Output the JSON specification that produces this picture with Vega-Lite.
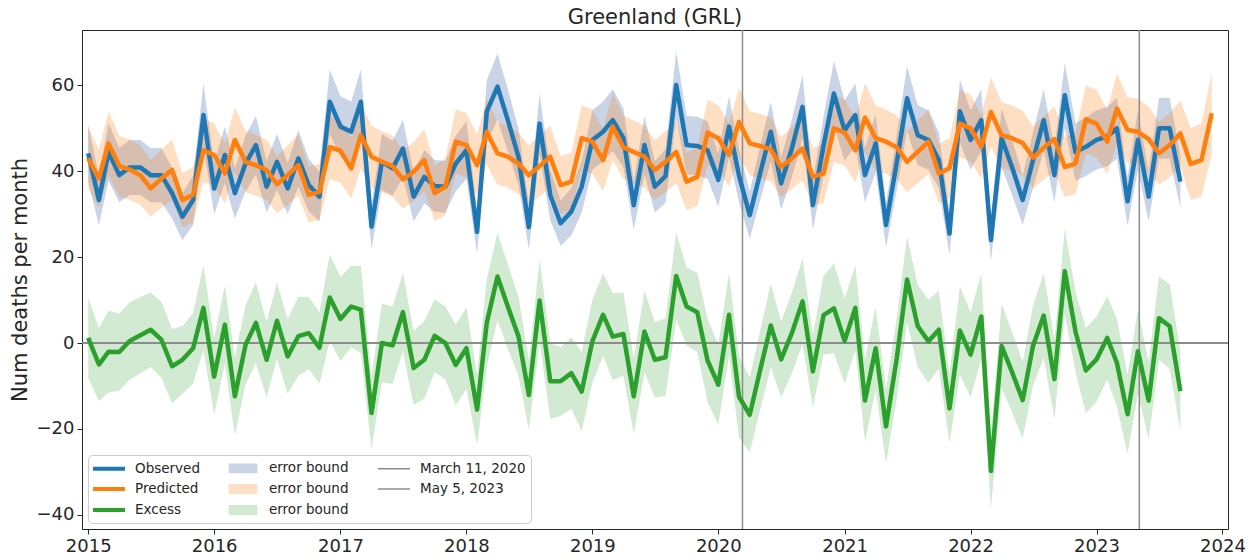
{
  "$schema": "https://vega.github.io/schema/vega-lite/v6.json",
  "width": 1146,
  "height": 499,
  "autosize": {"type": "none"},
  "padding": {"left": 82, "top": 30, "right": 31, "bottom": 31},
  "background": "white",
  "title": {"text": "Greenland (GRL)", "fontSize": 21, "font": "DejaVu Sans", "fontWeight": "normal", "color": "#262626", "offset": 1, "anchor": "middle"},
  "config": {
    "view": {"stroke": "#262626", "strokeWidth": 1},
    "font": "DejaVu Sans",
    "axis": {"domain": false, "grid": false, "tickColor": "#262626", "tickSize": 5, "tickWidth": 1, "labelFontSize": 18, "labelColor": "#262626", "labelFont": "DejaVu Sans", "titleFont": "DejaVu Sans", "titleFontWeight": "normal", "titleColor": "#262626", "labelPadding": 3}
  },
  "datasets": {
    "m": [
      {"date":"2015-01-01","o":44.2,"ol":37.6,"oh":50.8,"p":43.0,"pl":35.8,"ph":50.2,"e":1.2,"el":-8.1,"eh":10.5},
      {"date":"2015-02-01","o":33.3,"ol":27.5,"oh":39.1,"p":38.3,"pl":31.5,"ph":45.1,"e":-5.0,"el":-13.5,"eh":3.5},
      {"date":"2015-03-01","o":44.5,"ol":37.8,"oh":51.2,"p":46.5,"pl":39.0,"ph":54.0,"e":-2.0,"el":-11.5,"eh":7.5},
      {"date":"2015-04-01","o":39.1,"ol":32.8,"oh":45.4,"p":41.2,"pl":34.1,"ph":48.3,"e":-2.1,"el":-11.1,"eh":6.9},
      {"date":"2015-05-01","o":40.9,"ol":34.5,"oh":47.3,"p":40.4,"pl":33.4,"ph":47.4,"e":0.5,"el":-8.5,"eh":9.5},
      {"date":"2015-06-01","o":40.9,"ol":34.5,"oh":47.3,"p":39.1,"pl":32.2,"ph":46.0,"e":1.8,"el":-7.1,"eh":10.7},
      {"date":"2015-07-01","o":39.1,"ol":32.8,"oh":45.4,"p":36.0,"pl":29.4,"ph":42.6,"e":3.1,"el":-5.6,"eh":11.8},
      {"date":"2015-08-01","o":39.1,"ol":32.8,"oh":45.4,"p":38.3,"pl":31.5,"ph":45.1,"e":0.8,"el":-8.0,"eh":9.6},
      {"date":"2015-09-01","o":34.9,"ol":29.0,"oh":40.8,"p":40.3,"pl":33.3,"ph":47.3,"e":-5.4,"el":-14.1,"eh":3.3},
      {"date":"2015-10-01","o":29.4,"ol":24.0,"oh":34.8,"p":33.3,"pl":27.0,"ph":39.6,"e":-3.9,"el":-11.8,"eh":4.0},
      {"date":"2015-11-01","o":33.3,"ol":27.5,"oh":39.1,"p":34.5,"pl":28.0,"ph":41.0,"e":-1.2,"el":-9.4,"eh":7.0},
      {"date":"2015-12-01","o":53.1,"ol":45.8,"oh":60.4,"p":44.9,"pl":37.5,"ph":52.3,"e":8.2,"el":-1.7,"eh":18.1},
      {"date":"2016-01-01","o":36.0,"ol":30.0,"oh":42.0,"p":43.8,"pl":36.5,"ph":51.1,"e":-7.8,"el":-16.7,"eh":1.1},
      {"date":"2016-02-01","o":43.8,"ol":37.2,"oh":50.4,"p":39.5,"pl":32.6,"ph":46.4,"e":4.3,"el":-4.8,"eh":13.4},
      {"date":"2016-03-01","o":34.9,"ol":29.0,"oh":40.8,"p":47.3,"pl":39.7,"ph":54.9,"e":-12.4,"el":-21.5,"eh":-3.3},
      {"date":"2016-04-01","o":41.8,"ol":35.3,"oh":48.3,"p":42.2,"pl":35.1,"ph":49.3,"e":-0.4,"el":-9.6,"eh":8.8},
      {"date":"2016-05-01","o":46.1,"ol":39.3,"oh":52.9,"p":41.4,"pl":34.3,"ph":48.5,"e":4.7,"el":-4.7,"eh":14.1},
      {"date":"2016-06-01","o":36.4,"ol":30.4,"oh":42.4,"p":40.3,"pl":33.3,"ph":47.3,"e":-3.9,"el":-12.7,"eh":4.9},
      {"date":"2016-07-01","o":42.2,"ol":35.7,"oh":48.7,"p":37.0,"pl":30.3,"ph":43.7,"e":5.2,"el":-3.7,"eh":14.1},
      {"date":"2016-08-01","o":36.0,"ol":30.0,"oh":42.0,"p":39.1,"pl":32.2,"ph":46.0,"e":-3.1,"el":-11.8,"eh":5.6},
      {"date":"2016-09-01","o":43.0,"ol":36.4,"oh":49.6,"p":41.4,"pl":34.3,"ph":48.5,"e":1.6,"el":-7.6,"eh":10.8},
      {"date":"2016-10-01","o":36.8,"ol":30.7,"oh":42.9,"p":34.5,"pl":28.0,"ph":41.0,"e":2.3,"el":-6.1,"eh":10.7},
      {"date":"2016-11-01","o":34.1,"ol":28.3,"oh":39.9,"p":35.2,"pl":28.7,"ph":41.7,"e":-1.1,"el":-9.4,"eh":7.2},
      {"date":"2016-12-01","o":56.2,"ol":48.7,"oh":63.7,"p":45.6,"pl":38.2,"ph":53.0,"e":10.6,"el":0.5,"eh":20.7},
      {"date":"2017-01-01","o":50.4,"ol":43.3,"oh":57.5,"p":44.8,"pl":37.4,"ph":52.2,"e":5.6,"el":-4.2,"eh":15.4},
      {"date":"2017-02-01","o":49.2,"ol":42.2,"oh":56.2,"p":40.7,"pl":33.7,"ph":47.7,"e":8.5,"el":-1.0,"eh":18.0},
      {"date":"2017-03-01","o":56.2,"ol":48.7,"oh":63.7,"p":48.4,"pl":40.7,"ph":56.1,"e":7.8,"el":-2.4,"eh":18.0},
      {"date":"2017-04-01","o":27.1,"ol":21.9,"oh":32.3,"p":43.4,"pl":36.2,"ph":50.6,"e":-16.3,"el":-24.7,"eh":-7.9},
      {"date":"2017-05-01","o":42.2,"ol":35.7,"oh":48.7,"p":42.2,"pl":35.1,"ph":49.3,"e":0.0,"el":-9.2,"eh":9.2},
      {"date":"2017-06-01","o":40.7,"ol":34.3,"oh":47.1,"p":41.2,"pl":34.1,"ph":48.3,"e":-0.5,"el":-9.5,"eh":8.5},
      {"date":"2017-07-01","o":45.3,"ol":38.6,"oh":52.0,"p":38.1,"pl":31.3,"ph":44.9,"e":7.2,"el":-1.9,"eh":16.3},
      {"date":"2017-08-01","o":34.1,"ol":28.3,"oh":39.9,"p":39.9,"pl":33.0,"ph":46.8,"e":-5.8,"el":-14.4,"eh":2.8},
      {"date":"2017-09-01","o":38.7,"ol":32.5,"oh":44.9,"p":42.6,"pl":35.4,"ph":49.8,"e":-3.9,"el":-12.9,"eh":5.1},
      {"date":"2017-10-01","o":36.6,"ol":30.6,"oh":42.6,"p":34.9,"pl":28.4,"ph":41.4,"e":1.7,"el":-6.8,"eh":10.2},
      {"date":"2017-11-01","o":36.4,"ol":30.4,"oh":42.4,"p":36.4,"pl":29.8,"ph":43.0,"e":0.0,"el":-8.5,"eh":8.5},
      {"date":"2017-12-01","o":41.8,"ol":35.3,"oh":48.3,"p":46.9,"pl":39.4,"ph":54.4,"e":-5.1,"el":-14.5,"eh":4.3},
      {"date":"2018-01-01","o":44.9,"ol":38.2,"oh":51.6,"p":46.1,"pl":38.6,"ph":53.6,"e":-1.2,"el":-10.7,"eh":8.3},
      {"date":"2018-02-01","o":25.9,"ol":20.8,"oh":31.0,"p":41.4,"pl":34.3,"ph":48.5,"e":-15.5,"el":-23.7,"eh":-7.3},
      {"date":"2018-03-01","o":53.9,"ol":46.6,"oh":61.2,"p":49.2,"pl":41.5,"ph":56.9,"e":4.7,"el":-5.5,"eh":14.9},
      {"date":"2018-04-01","o":59.7,"ol":52.0,"oh":67.4,"p":44.2,"pl":36.9,"ph":51.5,"e":15.5,"el":5.3,"eh":25.7},
      {"date":"2018-05-01","o":51.9,"ol":44.7,"oh":59.1,"p":43.4,"pl":36.2,"ph":50.6,"e":8.5,"el":-1.3,"eh":18.3},
      {"date":"2018-06-01","o":43.3,"ol":36.7,"oh":49.9,"p":41.8,"pl":34.7,"ph":48.9,"e":1.5,"el":-7.7,"eh":10.7},
      {"date":"2018-07-01","o":27.0,"ol":21.8,"oh":32.2,"p":39.1,"pl":32.2,"ph":46.0,"e":-12.1,"el":-20.2,"eh":-4.0},
      {"date":"2018-08-01","o":51.1,"ol":44.0,"oh":58.2,"p":41.2,"pl":34.1,"ph":48.3,"e":9.9,"el":0.3,"eh":19.5},
      {"date":"2018-09-01","o":34.5,"ol":28.6,"oh":40.4,"p":43.4,"pl":36.2,"ph":50.6,"e":-8.9,"el":-17.7,"eh":-0.1},
      {"date":"2018-10-01","o":27.9,"ol":22.6,"oh":33.2,"p":36.8,"pl":30.1,"ph":43.5,"e":-8.9,"el":-16.9,"eh":-0.9},
      {"date":"2018-11-01","o":30.6,"ol":25.1,"oh":36.1,"p":37.6,"pl":30.9,"ph":44.3,"e":-7.0,"el":-15.3,"eh":1.3},
      {"date":"2018-12-01","o":36.4,"ol":30.4,"oh":42.4,"p":47.7,"pl":40.1,"ph":55.3,"e":-11.3,"el":-20.5,"eh":-2.1},
      {"date":"2019-01-01","o":47.3,"ol":40.4,"oh":54.2,"p":46.9,"pl":39.4,"ph":54.4,"e":0.4,"el":-9.3,"eh":10.1},
      {"date":"2019-02-01","o":49.2,"ol":42.2,"oh":56.2,"p":42.6,"pl":35.4,"ph":49.8,"e":6.6,"el":-3.0,"eh":16.2},
      {"date":"2019-03-01","o":51.9,"ol":44.7,"oh":59.1,"p":50.4,"pl":42.6,"ph":58.2,"e":1.5,"el":-8.6,"eh":11.6},
      {"date":"2019-04-01","o":47.7,"ol":40.8,"oh":54.6,"p":45.6,"pl":38.2,"ph":53.0,"e":2.1,"el":-7.6,"eh":11.8},
      {"date":"2019-05-01","o":32.1,"ol":26.4,"oh":37.8,"p":44.5,"pl":37.2,"ph":51.8,"e":-12.4,"el":-21.2,"eh":-3.6},
      {"date":"2019-06-01","o":46.1,"ol":39.3,"oh":52.9,"p":43.4,"pl":36.2,"ph":50.6,"e":2.7,"el":-6.8,"eh":12.2},
      {"date":"2019-07-01","o":36.4,"ol":30.4,"oh":42.4,"p":40.3,"pl":33.3,"ph":47.3,"e":-3.9,"el":-12.7,"eh":4.9},
      {"date":"2019-08-01","o":38.9,"ol":32.7,"oh":45.1,"p":42.2,"pl":35.1,"ph":49.3,"e":-3.3,"el":-12.3,"eh":5.7},
      {"date":"2019-09-01","o":60.1,"ol":52.3,"oh":67.9,"p":44.5,"pl":37.2,"ph":51.8,"e":15.6,"el":5.4,"eh":25.8},
      {"date":"2019-10-01","o":46.1,"ol":39.3,"oh":52.9,"p":37.6,"pl":30.9,"ph":44.3,"e":8.5,"el":-0.6,"eh":17.6},
      {"date":"2019-11-01","o":45.9,"ol":39.1,"oh":52.7,"p":38.7,"pl":31.9,"ph":45.5,"e":7.2,"el":-2.0,"eh":16.4},
      {"date":"2019-12-01","o":44.9,"ol":38.2,"oh":51.6,"p":49.0,"pl":41.3,"ph":56.7,"e":-4.1,"el":-13.8,"eh":5.6},
      {"date":"2020-01-01","o":38.0,"ol":31.8,"oh":44.2,"p":47.7,"pl":40.1,"ph":55.3,"e":-9.7,"el":-19.0,"eh":-0.4},
      {"date":"2020-02-01","o":50.4,"ol":43.3,"oh":57.5,"p":43.8,"pl":36.5,"ph":51.1,"e":6.6,"el":-3.1,"eh":16.3},
      {"date":"2020-03-01","o":39.0,"ol":32.8,"oh":45.2,"p":51.5,"pl":43.6,"ph":59.4,"e":-12.5,"el":-22.0,"eh":-3.0},
      {"date":"2020-04-01","o":29.8,"ol":24.3,"oh":35.3,"p":46.5,"pl":39.0,"ph":54.0,"e":-16.7,"el":-25.4,"eh":-8.0},
      {"date":"2020-05-01","o":39.5,"ol":33.2,"oh":45.8,"p":45.9,"pl":38.4,"ph":53.4,"e":-6.4,"el":-15.6,"eh":2.8},
      {"date":"2020-06-01","o":49.2,"ol":42.2,"oh":56.2,"p":45.1,"pl":37.7,"ph":52.5,"e":4.1,"el":-5.6,"eh":13.8},
      {"date":"2020-07-01","o":37.2,"ol":31.1,"oh":43.3,"p":41.0,"pl":34.0,"ph":48.0,"e":-3.8,"el":-12.6,"eh":5.0},
      {"date":"2020-08-01","o":45.3,"ol":38.6,"oh":52.0,"p":43.0,"pl":35.8,"ph":50.2,"e":2.3,"el":-7.1,"eh":11.7},
      {"date":"2020-09-01","o":55.0,"ol":47.6,"oh":62.4,"p":45.3,"pl":37.9,"ph":52.7,"e":9.7,"el":-0.3,"eh":19.7},
      {"date":"2020-10-01","o":32.1,"ol":26.4,"oh":37.8,"p":38.7,"pl":31.9,"ph":45.5,"e":-6.6,"el":-15.0,"eh":1.8},
      {"date":"2020-11-01","o":46.0,"ol":39.2,"oh":52.8,"p":39.5,"pl":32.6,"ph":46.4,"e":6.5,"el":-2.7,"eh":15.7},
      {"date":"2020-12-01","o":58.1,"ol":50.5,"oh":65.7,"p":50.0,"pl":42.2,"ph":57.8,"e":8.1,"el":-2.3,"eh":18.5},
      {"date":"2021-01-01","o":49.5,"ol":42.5,"oh":56.5,"p":49.0,"pl":41.3,"ph":56.7,"e":0.5,"el":-9.4,"eh":10.4},
      {"date":"2021-02-01","o":53.1,"ol":45.8,"oh":60.4,"p":44.9,"pl":37.5,"ph":52.3,"e":8.2,"el":-1.7,"eh":18.1},
      {"date":"2021-03-01","o":39.1,"ol":32.8,"oh":45.4,"p":52.5,"pl":44.5,"ph":60.5,"e":-13.4,"el":-23.0,"eh":-3.8},
      {"date":"2021-04-01","o":46.5,"ol":39.7,"oh":53.3,"p":47.7,"pl":40.1,"ph":55.3,"e":-1.2,"el":-10.9,"eh":8.5},
      {"date":"2021-05-01","o":27.5,"ol":22.3,"oh":32.7,"p":46.9,"pl":39.4,"ph":54.4,"e":-19.4,"el":-28.0,"eh":-10.8},
      {"date":"2021-06-01","o":42.0,"ol":35.5,"oh":48.5,"p":45.6,"pl":38.2,"ph":53.0,"e":-3.6,"el":-13.0,"eh":5.8},
      {"date":"2021-07-01","o":57.0,"ol":49.5,"oh":64.5,"p":42.2,"pl":35.1,"ph":49.3,"e":14.8,"el":4.8,"eh":24.8},
      {"date":"2021-08-01","o":48.4,"ol":41.4,"oh":55.4,"p":44.5,"pl":37.2,"ph":51.8,"e":3.9,"el":-5.7,"eh":13.5},
      {"date":"2021-09-01","o":47.3,"ol":40.4,"oh":54.2,"p":46.9,"pl":39.4,"ph":54.4,"e":0.4,"el":-9.3,"eh":10.1},
      {"date":"2021-10-01","o":42.6,"ol":36.1,"oh":49.1,"p":39.5,"pl":32.6,"ph":46.4,"e":3.1,"el":-6.0,"eh":12.2},
      {"date":"2021-11-01","o":25.5,"ol":20.5,"oh":30.5,"p":40.7,"pl":33.7,"ph":47.7,"e":-15.2,"el":-23.3,"eh":-7.1},
      {"date":"2021-12-01","o":54.0,"ol":46.7,"oh":61.3,"p":51.1,"pl":43.2,"ph":59.0,"e":2.9,"el":-7.4,"eh":13.2},
      {"date":"2022-01-01","o":47.3,"ol":40.4,"oh":54.2,"p":50.0,"pl":42.2,"ph":57.8,"e":-2.7,"el":-12.6,"eh":7.2},
      {"date":"2022-02-01","o":51.9,"ol":44.7,"oh":59.1,"p":45.7,"pl":38.3,"ph":53.1,"e":6.2,"el":-3.7,"eh":16.1},
      {"date":"2022-03-01","o":24.0,"ol":19.1,"oh":28.9,"p":53.8,"pl":45.7,"ph":61.9,"e":-29.8,"el":-38.6,"eh":-21.0},
      {"date":"2022-04-01","o":47.7,"ol":40.8,"oh":54.6,"p":48.4,"pl":40.7,"ph":56.1,"e":-0.7,"el":-10.5,"eh":9.1},
      {"date":"2022-05-01","o":41.0,"ol":34.6,"oh":47.4,"p":47.7,"pl":40.1,"ph":55.3,"e":-6.7,"el":-16.1,"eh":2.7},
      {"date":"2022-06-01","o":33.3,"ol":27.5,"oh":39.1,"p":46.6,"pl":39.1,"ph":54.1,"e":-13.3,"el":-22.2,"eh":-4.4},
      {"date":"2022-07-01","o":42.6,"ol":36.1,"oh":49.1,"p":43.2,"pl":36.0,"ph":50.4,"e":-0.6,"el":-9.9,"eh":8.7},
      {"date":"2022-08-01","o":51.9,"ol":44.7,"oh":59.1,"p":45.5,"pl":38.1,"ph":52.9,"e":6.4,"el":-3.5,"eh":16.3},
      {"date":"2022-09-01","o":39.1,"ol":32.8,"oh":45.4,"p":47.5,"pl":39.9,"ph":55.1,"e":-8.4,"el":-17.7,"eh":0.9},
      {"date":"2022-10-01","o":57.7,"ol":50.1,"oh":65.3,"p":41.0,"pl":34.0,"ph":48.0,"e":16.7,"el":6.8,"eh":26.6},
      {"date":"2022-11-01","o":44.5,"ol":37.8,"oh":51.2,"p":41.8,"pl":34.7,"ph":48.9,"e":2.7,"el":-6.6,"eh":12.0},
      {"date":"2022-12-01","o":45.7,"ol":38.9,"oh":52.5,"p":52.1,"pl":44.2,"ph":60.0,"e":-6.4,"el":-16.3,"eh":3.5},
      {"date":"2023-01-01","o":47.3,"ol":40.4,"oh":54.2,"p":51.1,"pl":43.2,"ph":59.0,"e":-3.8,"el":-13.7,"eh":6.1},
      {"date":"2023-02-01","o":48.1,"ol":41.2,"oh":55.0,"p":46.9,"pl":39.4,"ph":54.4,"e":1.2,"el":-8.5,"eh":10.9},
      {"date":"2023-03-01","o":50.0,"ol":42.9,"oh":57.1,"p":54.6,"pl":46.5,"ph":62.7,"e":-4.6,"el":-14.8,"eh":5.6},
      {"date":"2023-04-01","o":33.0,"ol":27.3,"oh":38.7,"p":49.6,"pl":41.9,"ph":57.3,"e":-16.6,"el":-25.7,"eh":-7.5},
      {"date":"2023-05-01","o":47.3,"ol":40.4,"oh":54.2,"p":49.2,"pl":41.5,"ph":56.9,"e":-1.9,"el":-11.7,"eh":7.9},
      {"date":"2023-06-01","o":34.1,"ol":28.3,"oh":39.9,"p":47.5,"pl":39.9,"ph":55.1,"e":-13.4,"el":-22.4,"eh":-4.4},
      {"date":"2023-07-01","o":50.0,"ol":42.9,"oh":57.1,"p":44.2,"pl":36.9,"ph":51.5,"e":5.8,"el":-3.9,"eh":15.5},
      {"date":"2023-08-01","o":50.0,"ol":42.9,"oh":57.1,"p":46.1,"pl":38.6,"ph":53.6,"e":3.9,"el":-5.9,"eh":13.7},
      {"date":"2023-09-01","o":37.6,"ol":31.5,"oh":43.7,"p":48.8,"pl":41.1,"ph":56.5,"e":-11.2,"el":-20.5,"eh":-1.9},
      {"date":"2023-10-01","p":41.7,"pl":33.3,"ph":50.1},
      {"date":"2023-11-01","p":42.6,"pl":34.1,"ph":51.1},
      {"date":"2023-12-01","p":53.5,"pl":44.0,"ph":63.0}
    ],
    "ev": [
      {"date": "2020-03-11", "label": "March 11, 2020"},
      {"date": "2023-05-05", "label": "May 5, 2023"}
    ],
    "keys": []
  },
  "layer": [
    {
      "data": {"name": "m"},
      "mark": {"type": "area", "color": "#4c72b0", "opacity": 0.3},
      "encoding": {
        "x": {"field": "date", "type": "temporal",
              "scale": {"type": "utc", "domain": [{"year": 2014, "month": 12, "date": 14, "utc": true}, {"year": 2024, "month": 1, "date": 17, "utc": true}]},
              "axis": {"title": null, "format": "%Y", "tickCount": {"interval": "year", "step": 1}}},
        "y": {"field": "ol", "type": "quantitative",
              "scale": {"domain": [-43.3, 72.9], "nice": false, "zero": false},
              "axis": {"values": [-40, -20, 0, 20, 40, 60], "title": "Num deaths per month", "titleFontSize": 21, "titlePadding": 6}},
        "y2": {"field": "oh"}
      }
    },
    {
      "data": {"name": "m"},
      "mark": {"type": "area", "color": "#ff7f0e", "opacity": 0.25},
      "encoding": {
        "x": {"field": "date", "type": "temporal"},
        "y": {"field": "pl", "type": "quantitative"},
        "y2": {"field": "ph"}
      }
    },
    {
      "data": {"name": "m"},
      "mark": {"type": "area", "color": "#2ca02c", "opacity": 0.22},
      "encoding": {
        "x": {"field": "date", "type": "temporal"},
        "y": {"field": "el", "type": "quantitative"},
        "y2": {"field": "eh"}
      }
    },
    {
      "data": {"values": [{"k": 0}]},
      "mark": {"type": "rule", "color": "#8c8c8c", "strokeWidth": 2},
      "encoding": {"y": {"datum": 0, "type": "quantitative"}}
    },
    {
      "data": {"name": "ev"},
      "mark": {"type": "rule", "color": "#8c8c8c", "strokeWidth": 1.5},
      "encoding": {
        "x": {"field": "date", "type": "temporal"}
      }
    },
    {
      "data": {"name": "m"},
      "mark": {"type": "line", "color": "#1f77b4", "strokeWidth": 4.5, "strokeJoin": "round"},
      "encoding": {
        "x": {"field": "date", "type": "temporal"},
        "y": {"field": "o", "type": "quantitative"}
      }
    },
    {
      "data": {"name": "m"},
      "mark": {"type": "line", "color": "#ff7f0e", "strokeWidth": 4.5, "strokeJoin": "round"},
      "encoding": {
        "x": {"field": "date", "type": "temporal"},
        "y": {"field": "p", "type": "quantitative"}
      }
    },
    {
      "data": {"name": "m"},
      "mark": {"type": "line", "color": "#2ca02c", "strokeWidth": 4.5, "strokeJoin": "round"},
      "encoding": {
        "x": {"field": "date", "type": "temporal"},
        "y": {"field": "e", "type": "quantitative"}
      }
    },
    {
      "data": {"name": "keys"},
      "mark": {"type": "point", "filled": false, "opacity": 1},
      "encoding": {
        "color": {"field": "k", "type": "nominal",
          "scale": {"domain": ["Observed", "Predicted", "Excess", "eb1", "eb2", "eb3", "March 11, 2020", "May 5, 2023"],
                    "range": ["#1f77b4", "#ff7f0e", "#2ca02c", "#c9d5e7", "#ffdfc3", "#d1ead1", "#8c8c8c", "#8c8c8c"]},
          "legend": {
            "title": null, "orient": "bottom-left", "offset": 6, "columns": 3,
            "labelFont": "DejaVu Sans", "labelFontSize": 13.5, "labelColor": "#262626",
            "fillColor": "rgba(255,255,255,0.85)", "strokeColor": "#cccccc", "cornerRadius": 4, "padding": 5,
            "rowPadding": 5, "columnPadding": 25, "symbolOffset": 8, "labelOffset": 18, "symbolSize": 210.25, "symbolStrokeWidth": 1.5, "symbolOpacity": 1,
            "labelExpr": "indexof(['eb1','eb2','eb3'], datum.value) >= 0 ? 'error bound' : datum.label"
          }
        },
        "shape": {"field": "k", "type": "nominal",
          "scale": {"domain": ["Observed", "Predicted", "Excess", "eb1", "eb2", "eb3", "March 11, 2020", "May 5, 2023"],
                    "range": [
                      "M-2.207,-0.172H2.207M-2.207,0H2.207M-2.207,0.172H2.207",
                      "M-2.207,-0.172H2.207M-2.207,0H2.207M-2.207,0.172H2.207",
                      "M-2.207,-0.172H2.207M-2.207,0H2.207M-2.207,0.172H2.207",
                      "M-1.986,-0.586H1.986M-1.986,-0.414H1.986M-1.986,-0.241H1.986M-1.986,-0.069H1.986M-1.986,0.103H1.986M-1.986,0.276H1.986M-1.986,0.448H1.986M-1.986,0.586H1.986",
                      "M-1.986,-0.586H1.986M-1.986,-0.414H1.986M-1.986,-0.241H1.986M-1.986,-0.069H1.986M-1.986,0.103H1.986M-1.986,0.276H1.986M-1.986,0.448H1.986M-1.986,0.586H1.986",
                      "M-1.986,-0.586H1.986M-1.986,-0.414H1.986M-1.986,-0.241H1.986M-1.986,-0.069H1.986M-1.986,0.103H1.986M-1.986,0.276H1.986M-1.986,0.448H1.986M-1.986,0.586H1.986",
                      "M-2.207,0H2.207",
                      "M-2.207,0H2.207"
                    ]},
          "legend": {
            "title": null, "orient": "bottom-left", "offset": 6, "columns": 3,
            "labelFont": "DejaVu Sans", "labelFontSize": 13.5, "labelColor": "#262626",
            "fillColor": "rgba(255,255,255,0.85)", "strokeColor": "#cccccc", "cornerRadius": 4, "padding": 5,
            "rowPadding": 5, "columnPadding": 25, "symbolOffset": 8, "labelOffset": 18, "symbolSize": 210.25, "symbolStrokeWidth": 1.5, "symbolOpacity": 1,
            "labelExpr": "indexof(['eb1','eb2','eb3'], datum.value) >= 0 ? 'error bound' : datum.label"
          }
        }
      }
    }
  ]
}
